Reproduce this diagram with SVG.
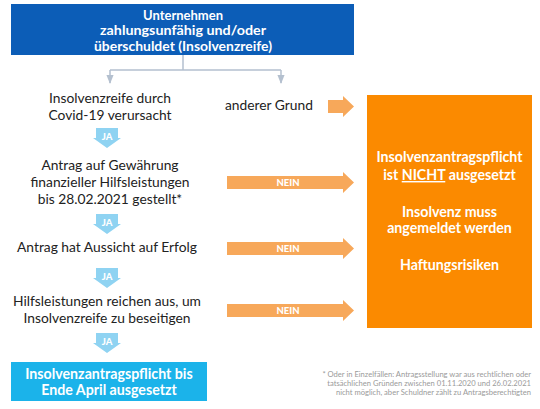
<svg xmlns="http://www.w3.org/2000/svg" width="540" height="409" viewBox="0 0 540 409">
<defs>
<style>
.t{font-family:Lato,"Liberation Sans",sans-serif;font-size:13.8px;fill:#222;text-anchor:middle}
.w{font-family:Lato,"Liberation Sans",sans-serif;font-size:14.2px;font-weight:bold;fill:#fff;text-anchor:middle}
.h{font-family:Lato,"Liberation Sans",sans-serif;font-size:13.6px;font-weight:bold;fill:#fff;text-anchor:middle}
.s{font-family:Lato,"Liberation Sans",sans-serif;font-size:9.5px;font-weight:900;fill:#fff;text-anchor:middle}
.fn{font-family:Lato,"Liberation Sans",sans-serif;font-size:7.6px;fill:#9a9a9a;text-anchor:end}
.con{fill:none;stroke:#b4c0cf;stroke-width:1.5}
.ja{fill:#8fd3f2}
.nein{fill:#f7a85a}
</style>
<marker id="ah" viewBox="0 0 10 10" refX="9" refY="5" markerWidth="6" markerHeight="6" orient="auto"><path d="M0,1 L10,5 L0,9 z" fill="#b4c0cf"/></marker>
</defs>
<rect width="540" height="409" fill="#fff"/>

<g id="start">
<rect x="11" y="4" width="343" height="51" fill="#0c5db7"/>
<text class="h" x="183" y="19.5" textLength="80" lengthAdjust="spacingAndGlyphs">Unternehmen</text>
<text class="h" x="183" y="35" textLength="166" lengthAdjust="spacingAndGlyphs">zahlungsunfähig und/oder</text>
<text class="h" x="183" y="50.5" textLength="178" lengthAdjust="spacingAndGlyphs">überschuldet (Insolvenzreife)</text>
</g>

<g id="connectors">
<path class="con" d="M183,55 V70 M110,70 H281 M110,70 V83" marker-end="url(#ah)"/>
<path class="con" d="M281,70 V83" marker-end="url(#ah)"/>
<path class="nein" d="M328,100 H343 V96 L354,106.5 L343,117 V113 H328 Z"/>
<path class="nein" d="M227,176 H343 V172 L354,182.5 L343,193 V189 H227 Z"/>
<path class="nein" d="M227,242 H343 V238 L354,248.5 L343,259 V255 H227 Z"/>
<path class="nein" d="M227,304 H343 V300 L354,310.5 L343,321 V317 H227 Z"/>
<text class="s" x="288" y="186">NEIN</text>
<text class="s" x="288" y="252">NEIN</text>
<text class="s" x="288" y="314">NEIN</text>
<path class="ja" d="M96,128 H118 V138 H121 L107,148 L93,138 H96 Z"/>
<path class="ja" d="M96,214 H118 V224 H121 L107,234 L93,224 H96 Z"/>
<path class="ja" d="M96,268 H118 V278 H121 L107,288 L93,278 H96 Z"/>
<path class="ja" d="M96,333 H118 V343 H121 L107,353 L93,343 H96 Z"/>
<text class="s" x="107" y="139.5">JA</text>
<text class="s" x="107" y="225.5">JA</text>
<text class="s" x="107" y="279.5">JA</text>
<text class="s" x="107" y="344.5">JA</text>
</g>

<g id="covid">
<text class="t" x="110" y="103">Insolvenzreife durch</text>
<text class="t" x="110" y="120">Covid-19 verursacht</text>
</g>
<g id="anderer">
<text class="t" x="269" y="110">anderer Grund</text>
</g>
<g id="antrag">
<text class="t" x="110" y="170">Antrag auf Gewährung</text>
<text class="t" x="110" y="187">finanzieller Hilfsleistungen</text>
<text class="t" x="110" y="204">bis 28.02.2021 gestellt*</text>
</g>
<g id="aussicht">
<text class="t" x="107" y="252">Antrag hat Aussicht auf Erfolg</text>
</g>
<g id="hilfe">
<text class="t" x="107" y="306">Hilfsleistungen reichen aus, um</text>
<text class="t" x="107" y="323">Insolvenzreife zu beseitigen</text>
</g>
<g id="ausgesetzt">
<rect x="11" y="362" width="196" height="39" fill="#1bb3ea"/>
<text class="w" x="109" y="379">Insolvenzantragspflicht bis</text>
<text class="w" x="109" y="395">Ende April ausgesetzt</text>
</g>
<g id="nicht">
<rect x="367" y="95" width="165" height="233" fill="#fb8a00"/>
<text class="w" x="449.5" y="162">Insolvenzantragspflicht</text>
<text class="w" x="449.5" y="180">ist <tspan text-decoration="underline">NICHT</tspan> ausgesetzt</text>
<text class="w" x="449.5" y="217">Insolvenz muss</text>
<text class="w" x="449.5" y="233">angemeldet werden</text>
<text class="w" x="449.5" y="270">Haftungsrisiken</text>
</g>
<g id="footnote">
<text class="fn" x="531" y="377">* Oder in Einzelfällen: Antragsstellung war aus rechtlichen oder</text>
<text class="fn" x="531" y="386">tatsächlichen Gründen zwischen 01.11.2020 und 26.02.2021</text>
<text class="fn" x="531" y="395">nicht möglich, aber Schuldner zählt zu Antragsberechtigten</text>
</g>
</svg>
